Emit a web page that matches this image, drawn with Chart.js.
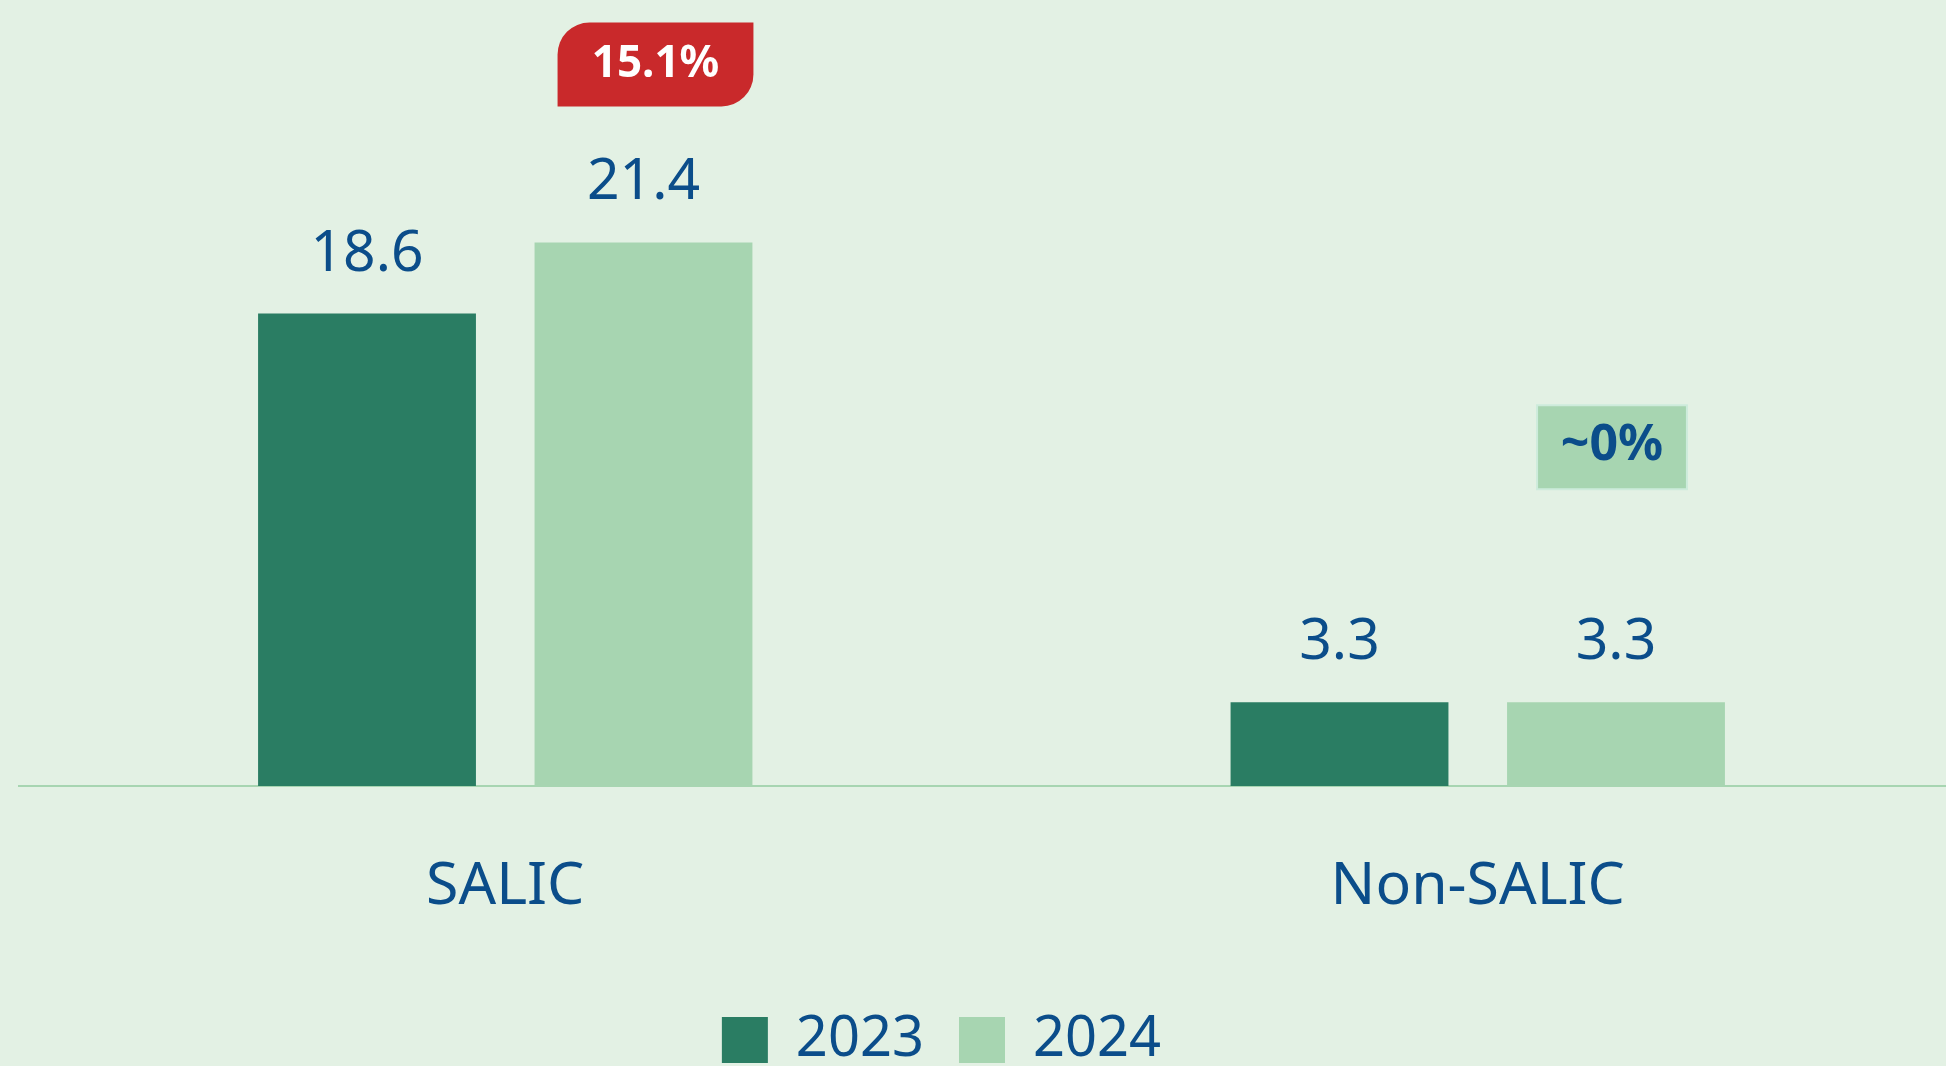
<!DOCTYPE html>
<html>
<head>
<meta charset="utf-8">
<script src="https://cdn.jsdelivr.net/npm/chart.js@4.4.1/dist/chart.umd.min.js"></script>
<style>
  html, body { margin: 0; padding: 0; background: #e3f1e4; overflow: hidden; }
</style>
</head>
<body>
<canvas id="chart" width="1964" height="1078"></canvas>
<script>
// chart data
const categories = ['SALIC', 'Non-SALIC'];
const years = ['2023', '2024'];
const values2023 = [18.6, 3.3];
const values2024 = [21.4, 3.3];
const changeLabels = ['15.1%', '~0%'];

const BLUE = '#0b4d8a';
const DARK_GREEN = '#2a7d63';
const LIGHT_GREEN = '#a7d5b1';

Chart.defaults.font.family = '"Noto Sans", sans-serif';

// value labels above bars + change badges over the 2024 bars
const barLabels = {
  id: 'barLabels',
  afterDatasetsDraw(chart, args, opts) {
    const ctx = chart.ctx;
    ctx.save();
    ctx.fillStyle = BLUE;
    ctx.font = '57px "Noto Sans"';
    ctx.textAlign = 'center';
    ctx.textBaseline = 'alphabetic';
    chart.data.datasets.forEach((ds, i) => {
      chart.getDatasetMeta(i).data.forEach((bar, j) => {
        ctx.fillText(ds.data[j].toFixed(1), bar.x, bar.y - 43);
      });
    });

    // badges
    const meta = chart.getDatasetMeta(1);
    opts.badges.forEach((b, j) => {
      const bar = meta.data[j];
      const left = bar.x - bar.width / 2 + b.dl;
      const right = bar.x + bar.width / 2 + b.dr;
      const bottom = bar.y - b.up;
      const top = bottom - b.h;
      ctx.beginPath();
      ctx.roundRect(left, top, right - left, b.h, b.radii);
      ctx.fillStyle = b.fill;
      ctx.fill();
      if (b.stroke) {
        ctx.lineWidth = 2;
        ctx.strokeStyle = b.stroke;
        ctx.stroke();
      }
      ctx.fillStyle = b.color;
      ctx.font = 'bold ' + b.size + 'px "Noto Sans"';
      ctx.fillText(changeLabels[j], (left + right) / 2, top + 55);
    });
    ctx.restore();
  }
};

// legend sits a little left of the plot centre
const legendShift = {
  id: 'legendShift',
  afterLayout(chart) {
    chart.legend.left -= 50;
    chart.legend.right -= 50;
  }
};

new Chart(document.getElementById('chart'), {
  type: 'bar',
  data: {
    labels: categories,
    datasets: [
      { label: years[0], data: values2023, backgroundColor: DARK_GREEN, borderWidth: 0 },
      { label: years[1], data: values2024, backgroundColor: LIGHT_GREEN, borderWidth: 0 }
    ]
  },
  options: {
    responsive: false,
    animation: false,
    layout: { padding: { top: 24, left: 19, right: 0, bottom: 0 } },
    categoryPercentage: 0.5686,
    barPercentage: 0.788,
    scales: {
      x: {
        z: 1,
        grid: { display: false, drawTicks: false },
        border: { display: true, color: LIGHT_GREEN, width: 2 },
        ticks: { color: BLUE, font: { size: 59 }, padding: 66 },
        afterFit(scale) { scale.height = 191; }
      },
      y: { display: false, min: 0, max: 30 }
    },
    plugins: {
      tooltip: { enabled: false },
      legend: {
        position: 'bottom',
        labels: {
          color: BLUE,
          font: { size: 56 },
          boxWidth: 46,
          boxHeight: 46,
          padding: 35
        }
      },
      barLabels: {
        badges: [
          { dl: 23, dr: 1, up: 136, h: 84, radii: [32, 0, 32, 0], fill: '#c9292b', color: '#ffffff', size: 44 },
          { dl: 30, dr: -38, up: 213, h: 84, radii: 0, fill: LIGHT_GREEN, stroke: '#cdebdb', color: BLUE, size: 50 }
        ]
      }
    }
  },
  plugins: [barLabels, legendShift]
});
</script>
</body>
</html>
